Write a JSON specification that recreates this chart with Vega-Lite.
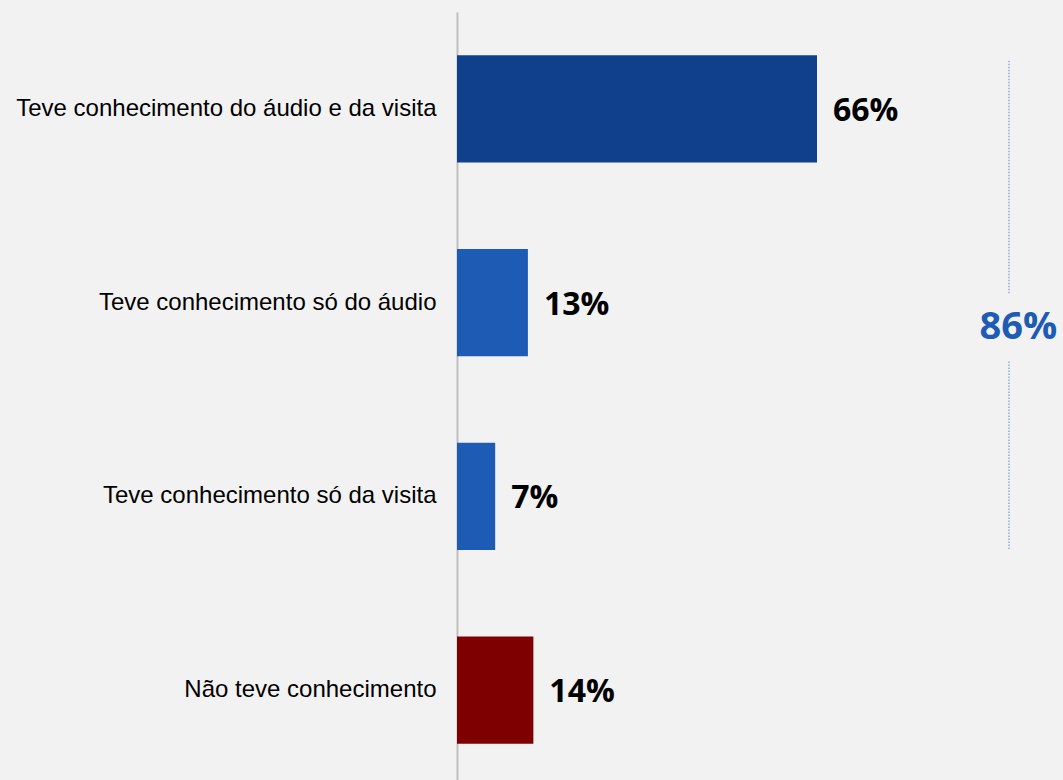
{
  "$schema": "https://vega.github.io/schema/vega-lite/v6.json",
  "width": 606,
  "height": 775,
  "autosize": {"type": "none"},
  "padding": {"left": 457, "top": 12, "right": 0, "bottom": 0},
  "background": "#f2f2f2",
  "config": {"view": {"stroke": null}},
  "datasets": {
    "bars": [
      {"cat": "Teve conhecimento do áudio e da visita", "value": 66, "label": "66%", "color": "#10408C"},
      {"cat": "Teve conhecimento só do áudio", "value": 13, "label": "13%", "color": "#1D5BB5"},
      {"cat": "Teve conhecimento só da visita", "value": 7, "label": "7%", "color": "#1D5BB5"},
      {"cat": "Não teve conhecimento", "value": 14, "label": "14%", "color": "#7F0000"}
    ],
    "seg1": [{"from": "Teve conhecimento do áudio e da visita", "to": "Teve conhecimento só do áudio", "x": 101.2}],
    "seg2": [{"from": "Teve conhecimento só do áudio", "to": "Teve conhecimento só da visita", "x": 101.2}],
    "total": [{"cat": "Teve conhecimento só do áudio", "x": 102.9, "label": "86%"}]
  },
  "encoding": {
    "y": {
      "field": "cat",
      "type": "nominal",
      "sort": null,
      "scale": {
        "domain": ["Teve conhecimento do áudio e da visita", "Teve conhecimento só do áudio", "Teve conhecimento só da visita", "Não teve conhecimento"],
        "paddingInner": 0.4475,
        "paddingOuter": 0.2237
      },
      "axis": {
        "title": null,
        "ticks": false,
        "labelFont": "Liberation Sans",
        "labelFontSize": 24,
        "labelColor": "#000000",
        "labelPadding": 21,
        "domainColor": "#bfbfbf",
        "domainWidth": 2,
        "labelLimit": 500
      }
    }
  },
  "layer": [
    {
      "data": {"name": "bars"},
      "mark": {"type": "bar"},
      "encoding": {
        "x": {"field": "value", "type": "quantitative", "scale": {"domain": [0, 111.1], "nice": false, "zero": true}, "axis": null},
        "color": {"field": "color", "type": "nominal", "scale": null}
      }
    },
    {
      "data": {"name": "bars"},
      "mark": {"type": "text", "align": "left", "baseline": "middle", "dx": 16, "dy": 2, "font": "Open Sans", "fontWeight": "bold", "fontSize": 32, "color": "#000000"},
      "encoding": {
        "x": {"field": "value", "type": "quantitative"},
        "text": {"field": "label"}
      }
    },
    {
      "data": {"name": "seg1"},
      "mark": {"type": "rule", "color": "#8fa9e0", "strokeWidth": 1.5, "strokeDash": [1.5, 1.5]},
      "encoding": {
        "x": {"field": "x", "type": "quantitative"},
        "y": {"field": "from", "type": "nominal", "bandPosition": 0.05},
        "y2": {"field": "to", "bandPosition": 0.42}
      }
    },
    {
      "data": {"name": "seg2"},
      "mark": {"type": "rule", "color": "#8fa9e0", "strokeWidth": 1.5, "strokeDash": [1.5, 1.5]},
      "encoding": {
        "x": {"field": "x", "type": "quantitative"},
        "y": {"field": "from", "type": "nominal", "bandPosition": 1.05},
        "y2": {"field": "to", "bandPosition": 1.0}
      }
    },
    {
      "data": {"name": "total"},
      "mark": {"type": "text", "align": "center", "baseline": "middle", "dy": 3, "font": "Open Sans", "fontWeight": "bold", "fontSize": 38, "color": "#1D5BB5"},
      "encoding": {
        "x": {"field": "x", "type": "quantitative"},
        "y": {"field": "cat", "type": "nominal", "bandPosition": 0.71},
        "text": {"field": "label"}
      }
    }
  ]
}
